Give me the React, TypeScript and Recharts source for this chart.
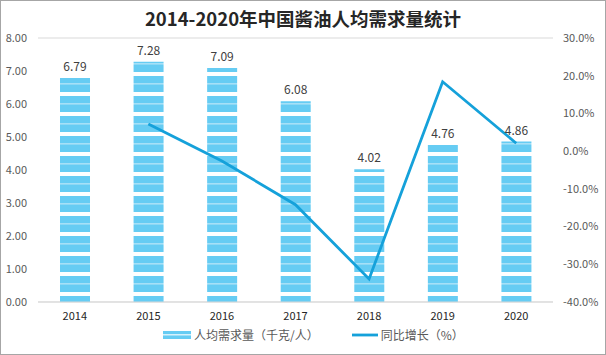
import React from "react";
import {
  ComposedChart,
  Bar,
  Line,
  XAxis,
  YAxis,
  CartesianGrid,
  LabelList,
} from "recharts";

const years = ["2014", "2015", "2016", "2017", "2018", "2019", "2020"];
const demand = [6.79, 7.28, 7.09, 6.08, 4.02, 4.76, 4.86];
const growth = [null, 7.2, -2.6, -14.2, -33.9, 18.4, 2.1];
const leftTicks = [0, 1, 2, 3, 4, 5, 6, 7, 8];
const rightTicks = [-40, -30, -20, -10, 0, 10, 20, 30];

const data = years.map((y, i) => ({
  year: y,
  demand: demand[i],
  growth: growth[i],
}));

const BLUE = "#66CCF3";
const LINE_BLUE = "#15A1DA";
const FONT = "'Noto Sans CJK SC', 'Noto Sans', sans-serif";

export default function App() {
  return (
    <div
      style={{
        position: "fixed",
        top: 0,
        left: 0,
        width: 604,
        height: 353,
        border: "1px solid #a6a6a6",
        background: "#fff",
        fontFamily: FONT,
      }}
    >
      <div
        style={{
          position: "absolute",
          top: 4,
          left: 0,
          width: 604,
          textAlign: "center",
          fontSize: 18.5,
          fontWeight: "bold",
          color: "#262626",
        }}
      >
        2014-2020年中国酱油人均需求量统计
      </div>
      <div style={{ position: "absolute", top: -1, left: -1 }}>
        <ComposedChart
          width={606}
          height={355}
          data={data}
          margin={{ top: 38, right: 8, left: 5, bottom: 28 }}
        >
          <defs>
            <pattern
              id="stripes"
              patternUnits="userSpaceOnUse"
              width={10}
              height={20}
            >
              <rect x={0} y={0} width={10} height={20} fill={BLUE} />
              <rect x={0} y={3} width={10} height={1.6} fill="#A6E0F7" />
              <rect x={0} y={12} width={10} height={4} fill="#ffffff" />
            </pattern>
          </defs>
          <CartesianGrid vertical={false} stroke="#d9d9d9" />
          <XAxis
            dataKey="year"
            height={25}
            tickLine={false}
            axisLine={{ stroke: "#d9d9d9" }}
            tickSize={0}
            tickMargin={10}
            tick={{ fill: "#262626", fontSize: 11, fontFamily: FONT }}
          />
          <YAxis
            yAxisId="left"
            width={33}
            domain={[0, 8]}
            ticks={leftTicks}
            tickFormatter={(v: number) => v.toFixed(2)}
            axisLine={false}
            tickLine={false}
            tickSize={0}
            tickMargin={11}
            tick={{ fill: "#595959", fontSize: 11, fontFamily: FONT }}
          />
          <YAxis
            yAxisId="right"
            orientation="right"
            width={45}
            domain={[-40, 30]}
            ticks={rightTicks}
            tickFormatter={(v: number) => `${v.toFixed(1)}%`}
            axisLine={false}
            tickLine={false}
            tickSize={0}
            tickMargin={10}
            tick={{ fill: "#595959", fontSize: 11, fontFamily: FONT }}
          />
          <Bar
            yAxisId="left"
            dataKey="demand"
            barSize={30}
            fill="url(#stripes)"
            isAnimationActive={false}
          >
            <LabelList
              dataKey="demand"
              position="top"
              offset={7}
              formatter={(v: number) => v.toFixed(2)}
              style={{ fill: "#404040", fontSize: 12, fontFamily: FONT }}
            />
          </Bar>
          <Line
            yAxisId="right"
            dataKey="growth"
            stroke={LINE_BLUE}
            strokeWidth={2.8}
            dot={false}
            activeDot={false}
            isAnimationActive={false}
          />
        </ComposedChart>
      </div>
      <div
        style={{
          position: "absolute",
          top: 325,
          left: 162,
          display: "flex",
          alignItems: "center",
          fontSize: 12,
          color: "#595959",
        }}
      >
        <svg width={28} height={10} style={{ marginRight: 3 }}>
          <rect x={0} y={1} width={28} height={8} fill={BLUE} />
          <rect x={0} y={4} width={28} height={1.5} fill="#D6F1FC" />
        </svg>
        <span>人均需求量（千克/人）</span>
        <svg width={26} height={10} style={{ marginLeft: 33, marginRight: 3 }}>
          <line x1={0} y1={5} x2={26} y2={5} stroke={LINE_BLUE} strokeWidth={2.8} />
        </svg>
        <span>同比增长（%）</span>
      </div>
    </div>
  );
}
